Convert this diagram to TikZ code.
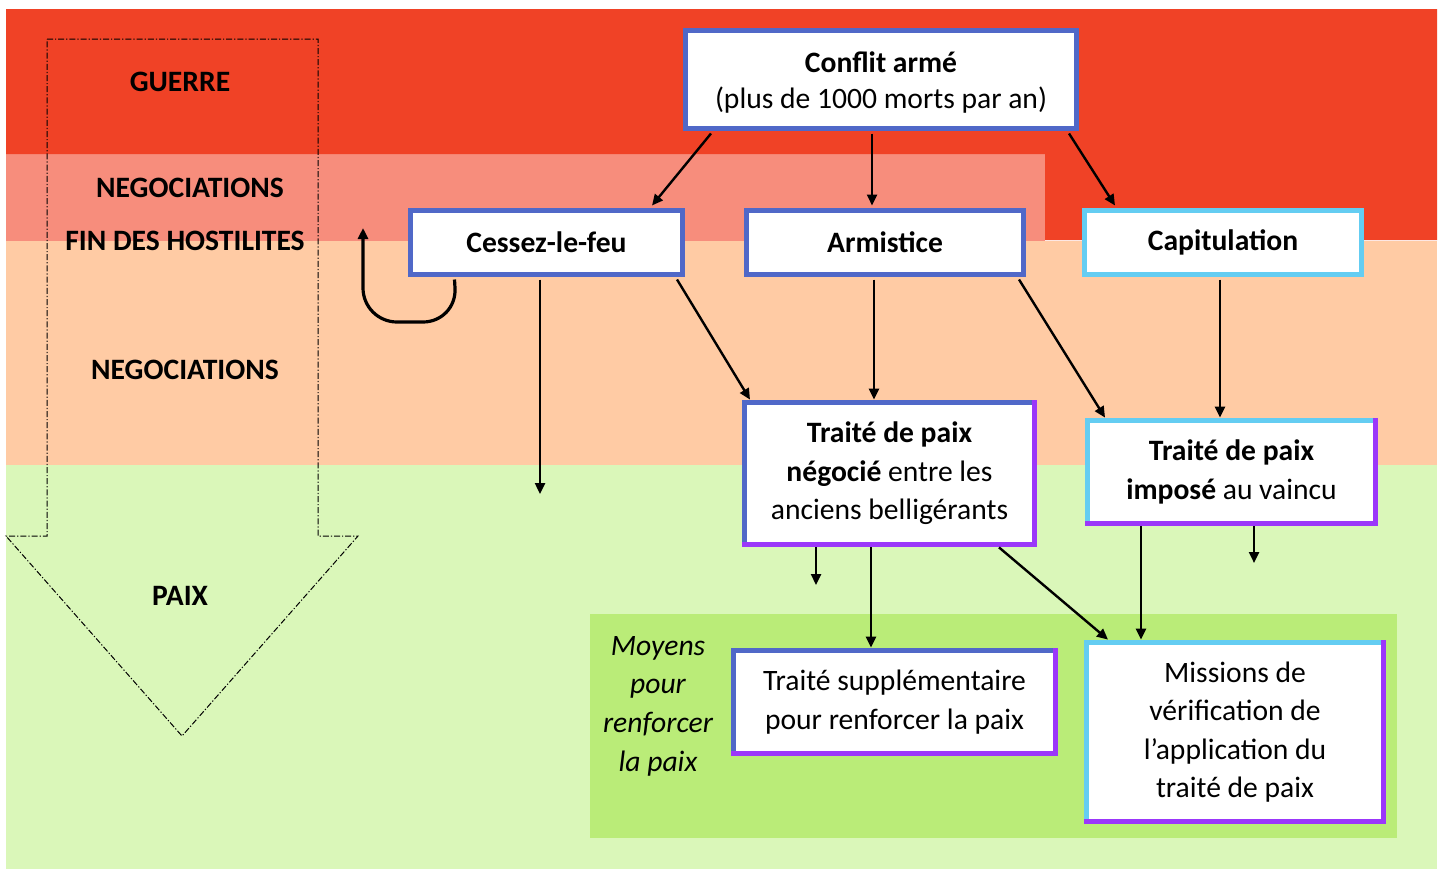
\documentclass[tikz,border=0pt]{standalone}
\usepackage{fontspec}
\setmainfont{Carlito}
\usetikzlibrary{arrows.meta,calc}
\definecolor{cRed}{HTML}{F04226}
\definecolor{cSalmon}{HTML}{F78D7C}
\definecolor{cPeach}{HTML}{FFCBA4}
\definecolor{cGreenL}{HTML}{DAF7B9}
\definecolor{cGreenM}{HTML}{BAEC78}
\definecolor{cBlue}{HTML}{5068C8}
\definecolor{cSky}{HTML}{64CDF2}
\definecolor{cPurple}{HTML}{9B37FA}
\begin{document}
\begin{tikzpicture}[x=0.5pt,y=-0.5pt,
  font=\fontsize{14.8}{19.3}\selectfont,
  box/.style={fill=white, inner sep=0pt, align=center},
  boxB/.style={box, draw=cBlue, line width=2.5pt},
  boxS/.style={box, draw=cSky, line width=2.5pt},
  edgeB/.style={draw=cBlue, line width=2.5pt, line cap=rect},
  edgeS/.style={draw=cSky, line width=2.5pt, line cap=rect},
  edgeP/.style={draw=cPurple, line width=2.5pt, line cap=rect},
  lab/.style={font=\fontsize{14.8}{19.3}\selectfont\bfseries},
  arr/.style={line width=1.2pt, -{Triangle[length=5.5pt,width=5pt]}},
  dashdotline/.style={line width=0.5pt, dash pattern=on 3pt off 1pt on 0.6pt off 1pt}]
\useasboundingbox (0,0) rectangle (1443,868);
\fill[white] (0,0) rectangle (1443,868);
% bands
\fill[cGreenL] (6,465) rectangle (1437,872);
\fill[cPeach] (6,241) rectangle (1437,465);
\fill[cSalmon] (6,154) rectangle (1045,241);
\fill[cRed] (6,9) -| (1437,240) -- (1045,240) |- (6,154) -- cycle;
\fill[cGreenM] (590,614) rectangle (1397,838);
% big dash-dot arrow
\draw[dashdotline] (47,39) -- (318,39) -- (318,536) -- (358,536) -- (182,736) -- (6,536) -- (47,536) -- cycle;
% phase labels
\node[lab] (guerre) at (180,82) {GUERRE};
\node[lab] (nego1) at (190,188) {NEGOCIATIONS};
\node[lab] (fin) at (185,241) {FIN DES HOSTILITES};
\node[lab] (nego2) at (185,370) {NEGOCIATIONS};
\node[lab] (paix) at (180,596) {PAIX};
\node[align=center, font=\fontsize{14.8}{19.3}\selectfont\itshape] (moyens) at (658,706) {Moyens\\pour\\renforcer\\la paix};
% boxes
\node[boxB, minimum width=195.5pt, minimum height=49pt, font=\fontsize{14.8}{18}\selectfont] (conflit) at (881,79.5) {\rule{0pt}{13.5pt}\textbf{Conflit armé}\\(plus de 1000 morts par an)};
\node[boxB, minimum width=136pt, minimum height=32pt] (cessez) at (546.5,242.5) {\textbf{Cessez-le-feu}};
\node[boxB, minimum width=138.5pt, minimum height=32pt] (armistice) at (885,242.5) {\textbf{Armistice}};
\node[boxS, minimum width=138.5pt, minimum height=32pt] (capit) at (1223,242.5) {\textbf{Capitulation}};
\node[box, minimum width=145pt, minimum height=71pt] (negocie) at (889.5,473.5) {\textbf{Traité de paix}\\\textbf{négocié} entre les\\anciens belligérants};
\draw[edgeB] (negocie.south west) -- (negocie.north west) -- (negocie.north east);
\draw[edgeP] (negocie.north east) -- (negocie.south east) -- (negocie.south west);
\node[box, minimum width=144pt, minimum height=51.5pt] (impose) at (1231.5,472) {\textbf{Traité de paix}\\\textbf{imposé} au vaincu};
\draw[edgeS] (impose.south west) -- (impose.north west) -- (impose.north east);
\draw[edgeP] (impose.north east) -- (impose.south east) -- (impose.south west);
\node[box, minimum width=161pt, minimum height=51.5pt] (supp) at (894.5,702) {Traité supplémentaire\\pour renforcer la paix};
\draw[edgeB] (supp.south west) -- (supp.north west) -- (supp.north east);
\draw[edgeP] (supp.north east) -- (supp.south east) -- (supp.south west);
\node[box, minimum width=148.5pt, minimum height=89.5pt] (missions) at (1235,732) {Missions de\\vérification de\\l’application du\\traité de paix};
\draw[edgeS] (missions.south west) -- (missions.north west) -- (missions.north east);
\draw[edgeP] (missions.north east) -- (missions.south east) -- (missions.south west);
% free ends
\coordinate (freeA) at (540,494);
\coordinate (freeB) at (816,585);
\coordinate (freeC) at (1254,563);
\coordinate (loopend) at (363,228);
% connectors
\draw[arr] ($(conflit.south)+(-170,2.5)$) -- ($(cessez.north)+(105.5,-2.5)$);
\draw[arr] ($(conflit.south)+(-9,2.5)$) -- ($(armistice.north)+(-13,-2.5)$);
\draw[arr] ($(conflit.south)+(188,2.5)$) -- ($(capit.north)+(-108,-2.5)$);
\draw[arr] ($(cessez.south)+(-6.5,2.5)$) -- (freeA);
\draw[arr] ($(cessez.south)+(130.5,2.5)$) -- ($(negocie.north)+(-139.5,-2.5)$);
\draw[arr] ($(armistice.south)+(-11,2.5)$) -- ($(negocie.north)+(-15.5,-2.5)$);
\draw[arr] ($(armistice.south)+(134,2.5)$) -- ($(impose.north)+(-126.5,-2.5)$);
\draw[arr] ($(capit.south)+(-3,2.5)$) -- ($(impose.north)+(-11.5,-2.5)$);
\draw[arr] ($(negocie.south)+(-73.5,2.5)$) -- (freeB);
\draw[arr] ($(negocie.south)+(-18.5,2.5)$) -- ($(supp.north)+(-23.5,-2.5)$);
\draw[arr] ($(negocie.south)+(109.5,2.5)$) -- ($(missions.north)+(-127,-2.5)$);
\draw[arr] ($(impose.south)+(-90.5,2.5)$) -- ($(missions.north)+(-94,-2.5)$);
\draw[arr] ($(impose.south)+(22.5,2.5)$) -- (freeC);
\draw[arr, line width=1.6pt, rounded corners=17pt] ($(cessez.south west)+(46.5,2.5)$) -- (457,322) -- (363,322) -- (loopend);
\end{tikzpicture}
\end{document}
